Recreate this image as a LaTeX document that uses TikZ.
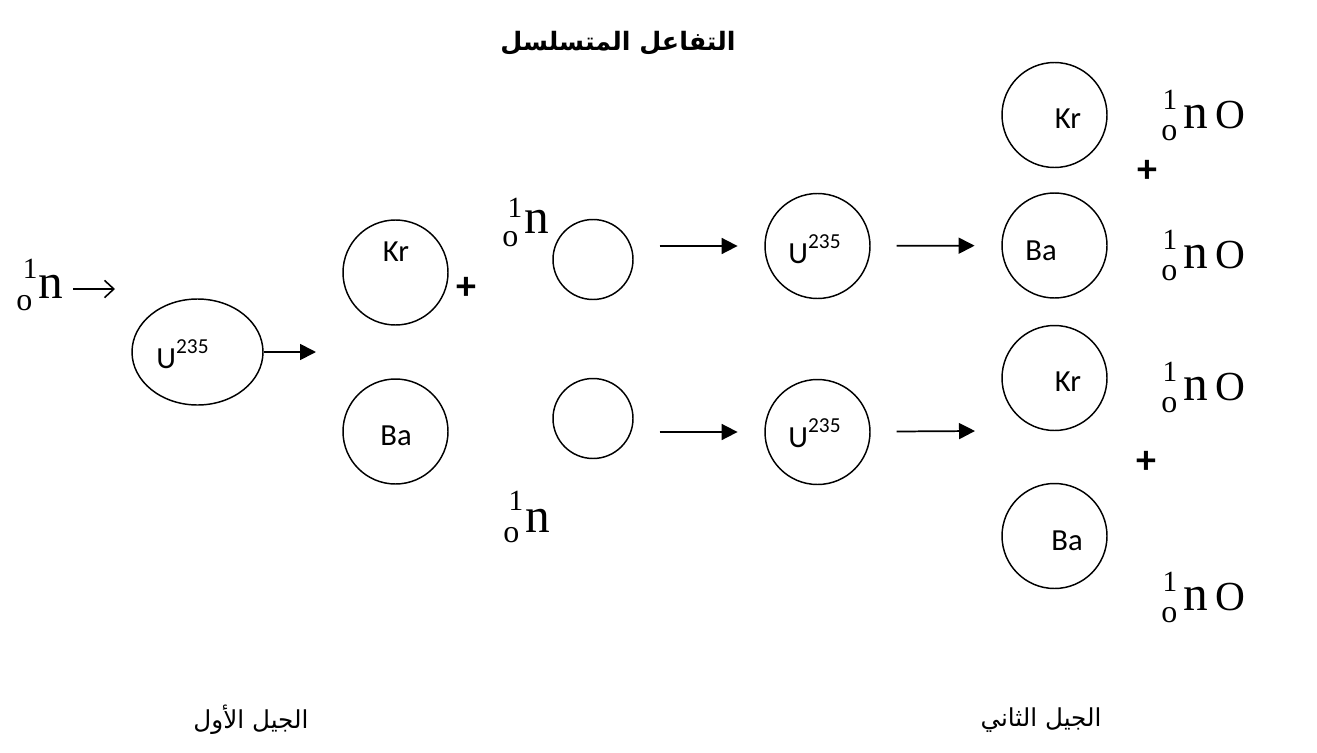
\documentclass[tikz,border=0pt]{standalone}
\usepackage{fontspec}
\setmainfont{Carlito}
\newfontfamily\timesfont{Liberation Serif}
\newfontfamily\arabicfont[Script=Arabic]{DejaVu Sans}
\TeXXeTstate=1
\usetikzlibrary{arrows.meta}
\usetikzlibrary{positioning}
\usetikzlibrary{shapes.geometric}

\newcommand{\nuc}[3]{{\timesfont\makebox[0pt][l]{\hspace{#1}\raisebox{#2}{\fontsize{22}{22}\selectfont 1}}\raisebox{-#3}{\fontsize{24}{24}\selectfont o}\hspace{5pt}{\fontsize{37}{37}\selectfont n}}}
\newcommand{\nucO}[3]{\nuc{#1}{#2}{#3}{\timesfont\hspace{5pt}\fontsize{31}{31}\selectfont O}}
\newcommand{\uran}{{\fontsize{23}{23}\selectfont U\raisebox{11pt}{\fontsize{16}{16}\selectfont 235}}}

\begin{document}
\begin{tikzpicture}[x=0.75pt, y=-0.75pt]
      \tikzset{
         nucleus/.style = {
            circle, draw, line width=1.1pt,
            inner sep=0pt, minimum size=78.75pt
         },
         neutron/.style = {
            circle, draw, line width=1.1pt,
            inner sep=0pt, minimum size=60pt
         },
         elem/.style = {inner sep=0pt, font=\fontsize{23}{23}\selectfont},
         txt/.style = {inner sep=0pt},
         plus/.style = {inner sep=0pt, font=\fontsize{30}{30}\selectfont\bfseries},
         flow/.style = {-{Triangle[length=12pt, width=12pt]}, line width=1.3pt},
         inflow/.style = {-{Straight Barb[length=7pt, width=13pt]}, line width=1.2pt}
      }
      \useasboundingbox (0,0) rectangle (1317,753);
      \node[txt] (title) at (618,43) {\arabicfont\bfseries\fontsize{19}{19}\selectfont\beginR التفاعل المتسلسل\endR} ;
      \node[txt, anchor=base west] (nIn) at (16,298) {\nuc{5pt}{15pt}{9pt}} ;
      \node[draw, ellipse, line width=1.1pt, inner sep=0pt, minimum width=98.25pt, minimum height=79.5pt] (u1) at (197.5,352) {} ;
      \node[txt, anchor=base] (u1Lbl) at (182.5,368) {\uran} ;
      \node[nucleus] (kr1) at (395.5,272.5) {} ;
      \node[elem, anchor=base] (kr1Lbl) at (396,261) {Kr} ;
      \node[nucleus] (ba1) at (395.5,431.5) {} ;
      \node[elem, anchor=base] (ba1Lbl) at (396,445) {Ba} ;
      \node[plus] (plus1) at (466,288) {+} ;
      \node[txt, anchor=base west] (nTop) at (502,233) {\nuc{4pt}{12pt}{10pt}} ;
      \node[txt, anchor=base west] (nBot) at (503,532) {\nuc{4pt}{16pt}{8pt}} ;
      \node[neutron] (n1) at (593,259.5) {} ;
      \node[neutron] (n2) at (593,418.5) {} ;
      \node[nucleus] (u2) at (817.5,246) {} ;
      \node[txt, anchor=base] (u2Lbl) at (814.5,263) {\uran} ;
      \node[nucleus] (u3) at (817.5,432) {} ;
      \node[txt, anchor=base] (u3Lbl) at (814.5,447) {\uran} ;
      \node[nucleus] (kr2) at (1054.5,115) {} ;
      \node[elem, anchor=base] (kr2Lbl) at (1068,128) {Kr} ;
      \node[nucleus] (ba2) at (1054.5,245.5) {} ;
      \node[elem, anchor=base] (ba2Lbl) at (1041,260) {Ba} ;
      \node[nucleus] (kr3) at (1054.5,378) {} ;
      \node[elem, anchor=base] (kr3Lbl) at (1068,391) {Kr} ;
      \node[nucleus] (ba3) at (1054.5,536) {} ;
      \node[elem, anchor=base] (ba3Lbl) at (1067,550) {Ba} ;
      \node[plus] (plus2) at (1147,171) {+} ;
      \node[plus] (plus3) at (1146,462.5) {+} ;
      \node[txt, anchor=base west] (nO1) at (1161,128) {\nucO{1pt}{14pt}{9pt}} ;
      \node[txt, anchor=base west] (nO2) at (1161,268) {\nucO{1pt}{14pt}{9pt}} ;
      \node[txt, anchor=base west] (nO3) at (1161,400) {\nucO{1pt}{14pt}{9pt}} ;
      \node[txt, anchor=base west] (nO4) at (1161,610) {\nucO{1pt}{14pt}{9pt}} ;
      \node[txt] (gen1) at (251,720) {\arabicfont\fontsize{18.5}{18.5}\selectfont\beginR الجيل الأول\endR} ;
      \node[txt] (gen2) at (1041,720) {\arabicfont\fontsize{18.5}{18.5}\selectfont\beginR الجيل الثاني\endR} ;
      \coordinate (inTip) at (115,289) ;
      \coordinate (split) at (316,352) ;
      \coordinate (gap) at (975,431) ;
      \draw [inflow, shorten <=7pt] (nIn.east |- inTip) -- (inTip) ;
      \draw [flow] (u1) -- (split) ;
      \draw [flow, shorten <=19.5pt, shorten >=20pt] (n1.east |- u2) -- (u2) ;
      \draw [flow, shorten <=19.5pt, shorten >=20pt] (n2.east |- u3) -- (u3) ;
      \draw [flow, shorten <=19.5pt, shorten >=20pt] (u2) -- (ba2) ;
      \draw [flow, shorten <=19.5pt] (u3) -- (gap) ;
    \end{tikzpicture}
\end{document}
